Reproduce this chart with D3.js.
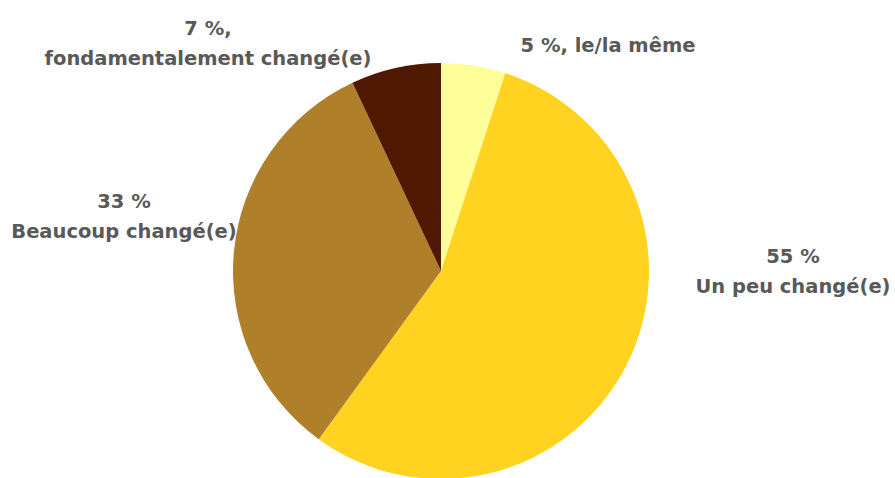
<!DOCTYPE html>
<html>
<head>
<meta charset="utf-8">
<script src="https://cdn.jsdelivr.net/npm/d3@7/dist/d3.min.js"></script>
<style>
  html, body { margin: 0; padding: 0; background: #ffffff; }
  svg { display: block; }
  .lbl { font-family: "DejaVu Sans", sans-serif; font-weight: bold; fill: #595959; }
</style>
</head>
<body>
<svg id="chart" width="895" height="478"></svg>
<script>
// Share of respondents by how much they have changed
const categories = ["le/la même", "Un peu changé(e)", "Beaucoup changé(e)", "fondamentalement changé(e)"];
const values = [5, 55, 33, 7];
const colors = ["#FFFF99", "#FFD320", "#B07F2A", "#4E1900"];
// Label lines for each slice
const labelLines = [
  ["5 %, le/la même"],
  ["55 %", "Un peu changé(e)"],
  ["33 %", "Beaucoup changé(e)"],
  ["7 %,", "fondamentalement changé(e)"]
];
const labelPos = [[608, 52], [793, 263], [124, 208], [208, 35]];

const width = 895, height = 478;
const cx = 441, cy = 271, radius = 208;

const svg = d3.select("#chart");
const g = svg.append("g").attr("transform", `translate(${cx},${cy})`);

const pie = d3.pie().sort(null).value(d => d)(values);
const arc = d3.arc().innerRadius(0).outerRadius(radius);

g.selectAll("path")
  .data(pie)
  .join("path")
  .attr("d", arc)
  .attr("fill", (d, i) => colors[i]);

const labels = svg.selectAll("text.lbl")
  .data(labelLines)
  .join("text")
  .attr("class", "lbl")
  .attr("text-anchor", "middle")
  .attr("font-size", 19.5);

labels.each(function (lines, i) {
  const t = d3.select(this);
  lines.forEach((line, j) => {
    t.append("tspan")
      .attr("x", labelPos[i][0])
      .attr("y", labelPos[i][1] + j * 30)
      .text(line);
  });
});
</script>
</body>
</html>
